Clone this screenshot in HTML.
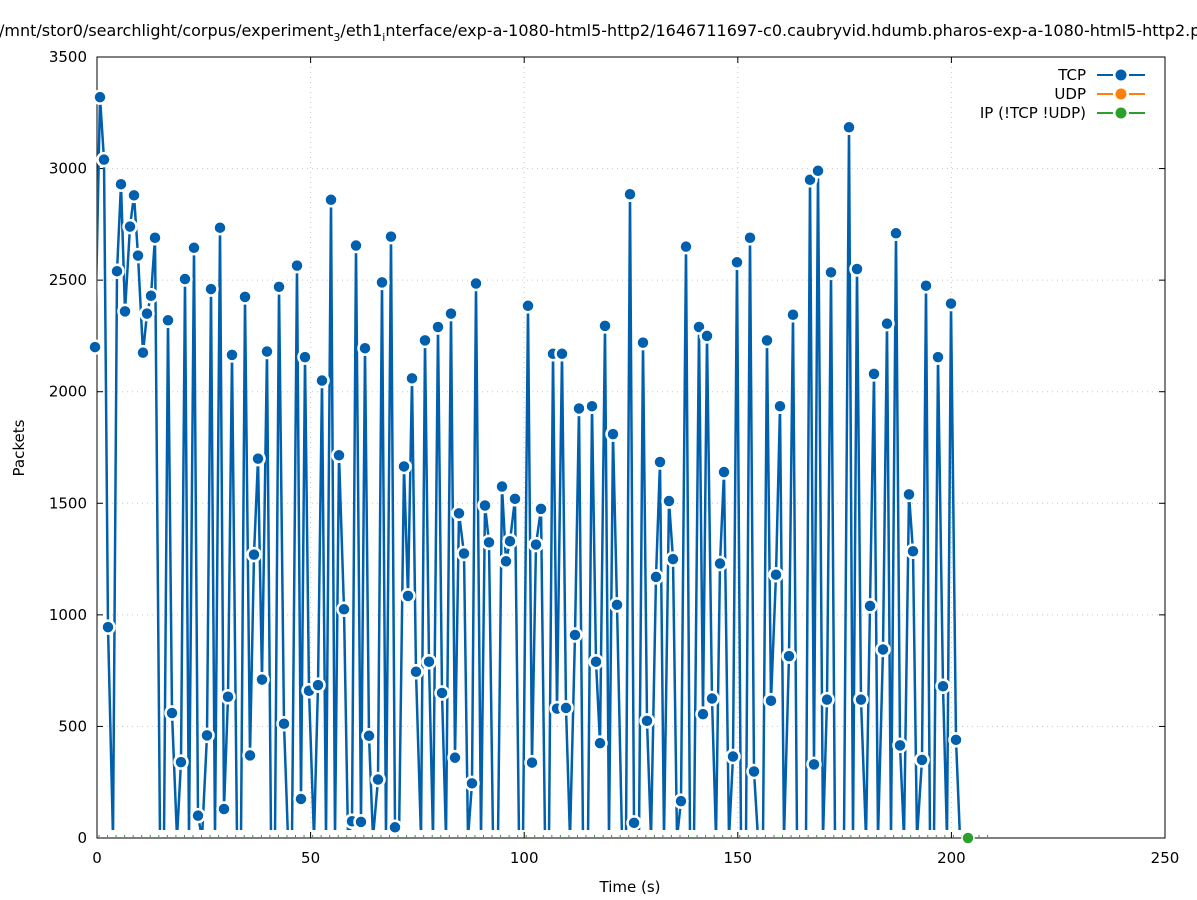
<!DOCTYPE html>
<html><head><meta charset="utf-8"><style>
body{margin:0;background:#fff;}
svg{display:block;font-family:"DejaVu Sans","Liberation Sans",sans-serif;}
</style></head><body>
<svg id="s" width="1197" height="900" xmlns="http://www.w3.org/2000/svg">
<rect width="1197" height="900" fill="#fff"/>
<text x="-1" y="36" font-size="16" text-anchor="start">/mnt/stor0/searchlight/corpus/experiment<tspan font-size="11" dy="5">3</tspan><tspan dy="-5">/eth1</tspan><tspan font-size="11" dy="5">i</tspan><tspan dy="-5">nterface/exp-a-1080-html5-http2/1646711697-c0.caubryvid.hdumb.pharos-exp-a-1080-html5-http2.p</tspan></text>
<g id="grid" stroke="#c8c8c8" stroke-width="1" stroke-dasharray="1,4"></g>
<g id="axes"></g>
<g id="data"></g>
<g font-size="15">
<text x="1086" y="80" text-anchor="end">TCP</text>
<text x="1086" y="99" text-anchor="end">UDP</text>
<text x="1086" y="118" text-anchor="end">IP (!TCP  !UDP)</text>
<line x1="1097" y1="75" x2="1145" y2="75" stroke="#0060ad" stroke-width="2" stroke-dasharray="16,6,4,6,16"/>
<circle cx="1121" cy="75" r="5.5" fill="#0060ad"/>
<line x1="1097" y1="94" x2="1145" y2="94" stroke="#ff7f0e" stroke-width="2" stroke-dasharray="16,6,4,6,16"/>
<circle cx="1121" cy="94" r="5.5" fill="#ff7f0e"/>
<line x1="1097" y1="113" x2="1145" y2="113" stroke="#2ca02c" stroke-width="2" stroke-dasharray="16,6,4,6,16"/>
<circle cx="1121" cy="113" r="5.5" fill="#2ca02c"/>
</g>
<text x="630" y="892" font-size="15" text-anchor="middle">Time (s)</text>
<text x="24" y="448" font-size="15" text-anchor="middle" transform="rotate(-90 24 448)">Packets</text>
</svg>
<script>
var NS="http://www.w3.org/2000/svg";
function el(p,t,a){var e=document.createElementNS(NS,t);for(var k in a)e.setAttribute(k,a[k]);p.appendChild(e);return e;}
var X0=97,X1=1165,Y0=838,Y1=57;
function px(v){return X0+(X1-X0)*v/250;}
function py(v){return Y0-(Y0-Y1)*v/3500;}
var g=document.getElementById('grid'),ax=document.getElementById('axes');
for(var i=0;i<=7;i++){var y=py(i*500);
 if(i>0&&i<7)el(g,'line',{x1:X0,y1:y,x2:X1,y2:y});
 el(ax,'line',{x1:X0,y1:y,x2:X0+6,y2:y,stroke:'#000'});el(ax,'line',{x1:X1,y1:y,x2:X1-6,y2:y,stroke:'#000'});
 var t=el(ax,'text',{x:X0-10,y:y+5,'font-size':15,'text-anchor':'end'});t.textContent=i*500;}
for(var i=0;i<=5;i++){var x=px(i*50);
 if(i>0&&i<5)el(g,'line',{x1:x,y1:Y1,x2:x,y2:Y0});
 el(ax,'line',{x1:x,y1:Y0,x2:x,y2:Y0-6,stroke:'#000'});el(ax,'line',{x1:x,y1:Y1,x2:x,y2:Y1+6,stroke:'#000'});
 var t=el(ax,'text',{x:x,y:863,'font-size':15,'text-anchor':'middle'});t.textContent=i*50;}
el(ax,'rect',{x:X0,y:Y1,width:X1-X0,height:Y0-Y1,fill:'none',stroke:'#000','stroke-width':1});
var d=[[95,2200],[100,3320],[104,3040],[108,945],[113,0],[117,2540],[121,2930],[125,2360],[130,2740],[134,2880],[138,2610],[143,2175],[147,2350],[151,2430],[155,2690],[160,0],[164,0],[168,2320],[172,560],[177,0],[181,340],[185,2505],[189,0],[194,2645],[198,100],[202,0],[207,460],[211,2460],[215,0],[220,2735],[224,130],[228,633],[232,2165],[237,0],[241,0],[245,2425],[250,370],[254,1270],[258,1700],[262,710],[267,2180],[271,0],[275,0],[279,2470],[284,512],[288,0],[292,0],[297,2565],[301,175],[305,2155],[309,660],[314,0],[318,685],[322,2050],[326,0],[331,2860],[335,0],[339,1715],[344,1025],[348,0],[352,75],[356,2655],[361,72],[365,2195],[369,458],[373,0],[378,262],[382,2490],[386,0],[391,2695],[395,48],[399,0],[404,1665],[408,1085],[412,2060],[416,745],[421,0],[425,2230],[429,790],[433,0],[438,2290],[442,650],[446,0],[451,2350],[455,360],[459,1455],[464,1275],[468,0],[472,245],[476,2485],[481,0],[485,1490],[489,1325],[493,0],[498,0],[502,1575],[506,1240],[510,1330],[515,1520],[519,0],[523,0],[528,2385],[532,338],[536,1315],[541,1475],[545,0],[549,0],[553,2170],[557,580],[562,2170],[566,583],[570,0],[575,910],[579,1925],[583,0],[588,0],[592,1935],[596,790],[600,425],[605,2295],[609,0],[613,1810],[617,1045],[622,0],[626,0],[630,2885],[634,68],[639,0],[643,2220],[647,525],[651,0],[656,1170],[660,1685],[664,0],[669,1510],[673,1250],[677,0],[681,165],[686,2650],[690,0],[694,0],[699,2290],[703,555],[707,2250],[712,625],[716,0],[720,1230],[724,1640],[729,0],[733,365],[737,2580],[741,0],[746,0],[750,2690],[754,298],[758,0],[763,0],[767,2230],[771,615],[776,1180],[780,1935],[784,0],[789,815],[793,2345],[797,0],[801,0],[806,0],[810,2950],[814,330],[818,2990],[823,0],[827,620],[831,2535],[835,0],[840,0],[844,0],[849,3185],[853,0],[857,2550],[861,620],[866,0],[870,1040],[874,2080],[878,0],[883,845],[887,2305],[891,0],[896,2710],[900,415],[904,0],[909,1540],[913,1285],[917,0],[922,350],[926,2475],[930,0],[934,0],[938,2155],[943,680],[947,0],[951,2395],[956,440],[960,0]];
var dg=document.getElementById('data');
var pts=d.map(function(p){return p[0]+','+py(p[1]).toFixed(1)}).join(' ');
var cp=el(dg,'clipPath',{id:'c'});el(cp,'rect',{x:X0,y:Y1,width:X1-X0,height:Y0-Y1-8});
for(var i=0;i<105;i++){var x=px(i*2)+2;el(dg,'line',{x1:x,y1:Y0-3,x2:x,y2:Y0,stroke:'#2ca02c','stroke-width':1});}
el(dg,'polyline',{points:pts,fill:'none',stroke:'#0060ad','stroke-width':2.5,'stroke-linejoin':'round','clip-path':'url(#c)'});
d.forEach(function(p){if(p[1]>0)el(dg,'circle',{cx:p[0],cy:py(p[1]),r:6.5,fill:'#0060ad',stroke:'#fff','stroke-width':2.5});});
el(dg,'circle',{cx:968,cy:838,r:6,fill:'#2ca02c',stroke:'#fff','stroke-width':1.5});
</script>
</body></html>
